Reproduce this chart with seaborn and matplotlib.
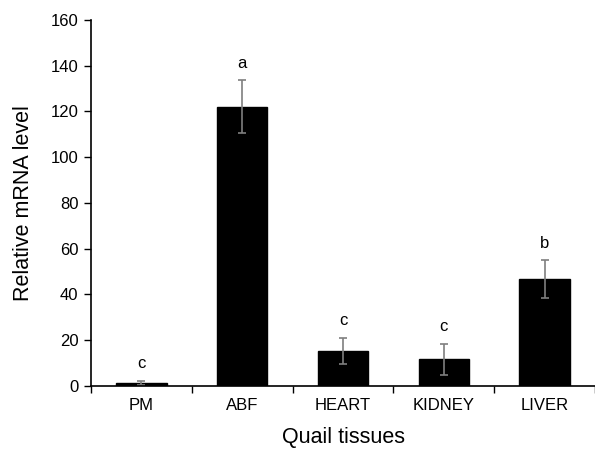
import numpy as np
import pandas as pd
import seaborn as sns
import matplotlib.pyplot as plt

tissues = ['PM', 'ABF', 'HEART', 'KIDNEY', 'LIVER']
mrna_level = [1.2, 122.0, 15.2, 11.7, 46.6]
mrna_err = [1.0, 11.6, 5.7, 6.7, 8.3]
letters = ['c', 'a', 'c', 'c', 'b']

df = pd.DataFrame({'tissue': tissues, 'level': mrna_level, 'err': mrna_err})

sns.set_style('white')
plt.rcParams['font.family'] = ['Liberation Sans', 'DejaVu Sans']
plt.rcParams['text.color'] = 'black'
plt.rcParams['axes.labelcolor'] = 'black'
plt.rcParams['xtick.color'] = 'black'
plt.rcParams['ytick.color'] = 'black'

fig = plt.figure(figsize=(5.95, 4.53), dpi=100)
ax = fig.add_axes([0.153, 0.148, 0.847, 0.808])

sns.barplot(data=df, x='tissue', y='level', color='black', width=0.5,
            edgecolor='black', ax=ax)
ax.errorbar(np.arange(len(tissues)), df['level'], yerr=df['err'], fmt='none',
            ecolor='#7f7f7f', elinewidth=1.2, capsize=3, capthick=1.2)

for i, (v, e, s) in enumerate(zip(mrna_level, mrna_err, letters)):
    ax.text(i, v + e + 7.5, s, ha='center', va='center', fontsize=12)

ax.set_xlim(-0.5, 4.5)
ax.set_ylim(0, 160)
ax.set_yticks(range(0, 161, 20))
ax.set_xticks(range(len(tissues)))
ax.set_xticklabels(tissues)
ax.set_xticks(np.arange(-0.5, 4.6, 1), minor=True)
ax.tick_params(axis='x', which='major', length=0, pad=9, labelsize=12)
ax.tick_params(axis='x', which='minor', length=5, width=1, direction='out', color='black', bottom=True)
ax.tick_params(axis='y', length=5, width=1, direction='out', color='black', left=True, labelsize=12, pad=4)

sns.despine(ax=ax)
for sp in ['left', 'bottom']:
    ax.spines[sp].set_color('black')
    ax.spines[sp].set_linewidth(1.2)

ax.set_xlabel('Quail tissues', fontsize=15.5, labelpad=10)
ax.set_ylabel('Relative mRNA level', fontsize=15.5, labelpad=12)

fig.savefig('out.png', dpi=100)
